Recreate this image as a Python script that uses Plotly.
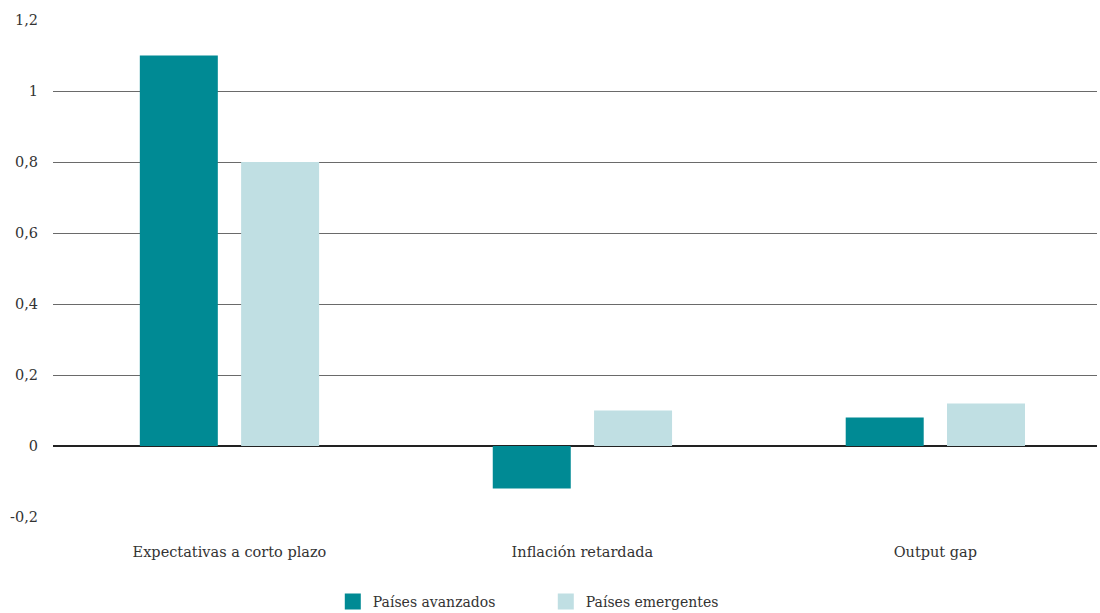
import plotly.graph_objects as go

categories = ["Expectativas a corto plazo", "Inflación retardada", "Output gap"]
avanzados = [1.1, -0.12, 0.08]
emergentes = [0.8, 0.1, 0.12]
series_names = ["Países avanzados", "Países emergentes"]
tick_vals = [-0.2, 0, 0.2, 0.4, 0.6, 0.8, 1.0, 1.2]
tick_text = ["-0,2", "0", "0,2", "0,4", "0,6", "0,8", "1", "1,2"]

dark = "#008a94"
light = "#c0dfe3"
ff = "DejaVu Serif"

x_idx = list(range(len(categories)))

fig = go.Figure()
fig.add_trace(go.Bar(x=x_idx, y=avanzados, width=0.221, offset=-0.254,
                     marker=dict(color=dark, line=dict(width=0)), showlegend=False))
fig.add_trace(go.Bar(x=x_idx, y=emergentes, width=0.221, offset=0.033,
                     marker=dict(color=light, line=dict(width=0)), showlegend=False))
for name, col in zip(series_names, [dark, light]):
    fig.add_trace(go.Scatter(x=[None], y=[None], mode="markers", name=name,
                             marker=dict(symbol="square", size=20, color=col)))

fig.update_layout(
    width=1100, height=613,
    margin=dict(l=53, r=3, t=20, b=96, autoexpand=False),
    plot_bgcolor="white", paper_bgcolor="white",
    barmode="overlay",
    font=dict(family=ff, size=14.5, color="#333333"),
    showlegend=True,
    legend=dict(orientation="h", x=0.268, xanchor="left", y=-0.171, yanchor="middle",
                font=dict(family=ff, size=14, color="#333333"),
                itemwidth=30, entrywidth=168, entrywidthmode="pixels"),
    xaxis=dict(range=[-0.5, 2.458], tickvals=x_idx, ticktext=categories,
               showgrid=False, zeroline=False, showline=False, ticks="",
               automargin=False,
               tickfont=dict(family=ff, size=14.5), ticklabelstandoff=24),
    yaxis=dict(range=[-0.2, 1.2], tickvals=tick_vals, ticktext=tick_text,
               showgrid=True, gridcolor="#6a6a6a", gridwidth=1,
               zeroline=True, zerolinecolor="#222222", zerolinewidth=1.5,
               showline=False, ticks="", automargin=False,
               tickfont=dict(family=ff, size=14.5), ticklabelstandoff=14),
)

fig.write_html("out.html", config={"displayModeBar": False},
               post_script="document.body.style.margin='0px';")
